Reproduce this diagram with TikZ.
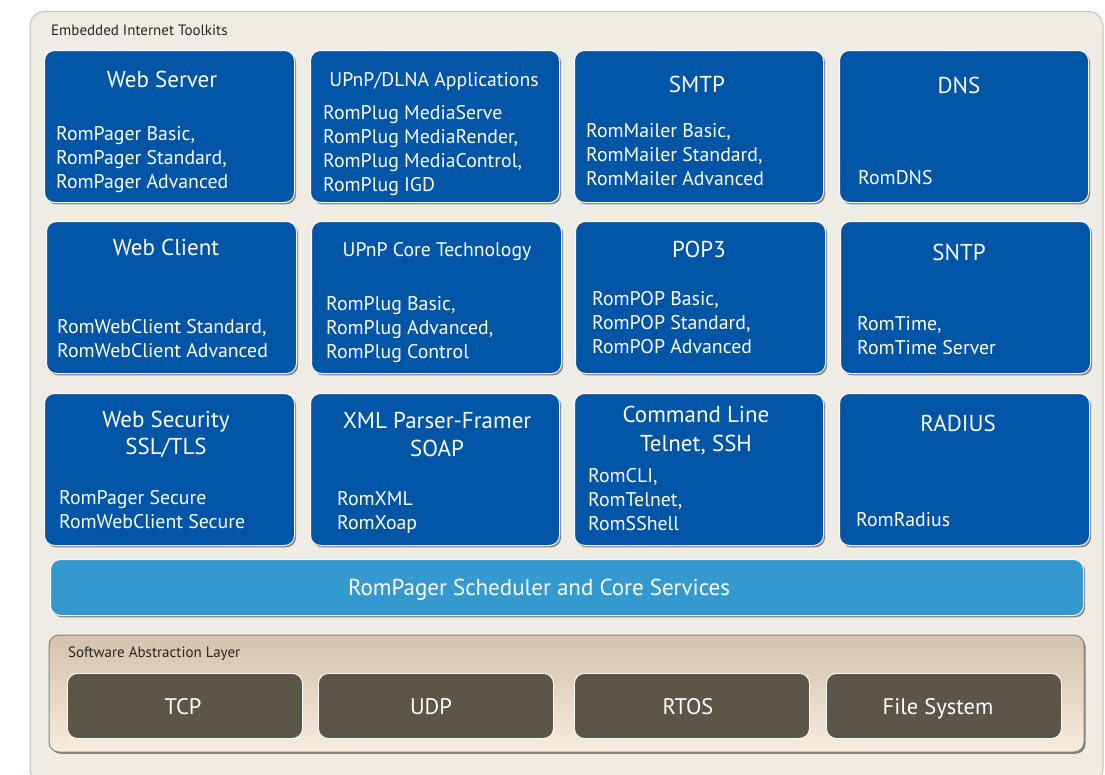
\documentclass[tikz,border=0pt]{standalone}
\usepackage{fontspec}
\setmainfont{PT Sans}
\usetikzlibrary{shadows}
\definecolor{panelbg}{HTML}{EFECE5}
\definecolor{panelln}{HTML}{C4C0B8}
\definecolor{boxblue}{HTML}{0055A6}
\definecolor{schedblue}{HTML}{3399CF}
\definecolor{saltop}{HTML}{D3C2AD}
\definecolor{salbot}{HTML}{F7ECDE}
\definecolor{salln}{HTML}{8C8478}
\definecolor{darkbox}{HTML}{5C5649}
\definecolor{labtxt}{HTML}{2A2520}
\tikzset{
  shad/.style={drop shadow={shadow xshift=1.6pt,shadow yshift=-1.8pt,fill=black,opacity=0.45}},
  bluebox/.style={rectangle,rounded corners=10pt,fill=boxblue,draw=white,line width=1pt,shad,anchor=north west,inner sep=0},
  schedbox/.style={rectangle,rounded corners=10pt,fill=schedblue,draw=white,line width=1pt,shad,anchor=north west,inner sep=0},
  darkboxst/.style={rectangle,rounded corners=10pt,fill=darkbox,draw=white,line width=0.9pt,anchor=north west,inner sep=0},
  ttl/.style={font=\fontsize{23}{27}\selectfont,text=white,anchor=base,inner sep=0},
  ttls/.style={font=\fontsize{19.7}{23}\selectfont,text=white,anchor=base,inner sep=0},
  bdy/.style={font=\fontsize{19.8}{24}\selectfont,text=white,anchor=base west,inner sep=0},
  smlab/.style={font=\fontsize{15}{17}\selectfont,text=labtxt,anchor=base west,inner sep=0},
  biglab/.style={font=\fontsize{22.5}{26}\selectfont,text=white,anchor=base,inner sep=0},
  schedlab/.style={font=\fontsize{23}{27}\selectfont,text=white,anchor=base,inner sep=0},
}
\newcommand\bodylines[5]{%
  \foreach \t [count=\i from 0] in {#5} {\node[#1] (#2\i) at (#3,{#4+24*\i}) {\t};}}
\newcommand\boxat[5]{%
  \node[bluebox,minimum width={(#4-#2)*1pt},minimum height={(#5-#3)*1pt}] (#1) at (#2,#3) {};}
\begin{document}
\begin{tikzpicture}[x=1pt,y=-1pt]
\useasboundingbox (0,0) rectangle (1105,774);
\fill[white] (0,0) rectangle (1105,774);
% outer panel
\node[rectangle,rounded corners=15pt,fill=panelbg,draw=panelln,line width=1pt,anchor=north west,inner sep=0,
  minimum width=1073pt,minimum height=772pt] (panel) at (29.5,11) {};
\node[smlab] (panellab) at (51,35) {Embedded Internet Toolkits};
% row 1
\boxat{ws}{44}{50}{294}{202}
\boxat{upd}{310}{50}{559}{202}
\boxat{smtp}{574}{50}{823}{202}
\boxat{dns}{839}{50}{1088}{202}
% row 2
\boxat{wc}{46}{221}{296}{373}
\boxat{upc}{311}{221}{561}{373}
\boxat{pop}{575}{221}{825}{373}
\boxat{sntp}{840}{221}{1090}{373}
% row 3
\boxat{wsec}{44}{393}{294}{545}
\boxat{xml}{310}{393}{559}{545}
\boxat{cli}{574}{393}{823}{545}
\boxat{rad}{839}{393}{1089}{545}
% titles
\node[ttl] (wst) at (162,87) {Web Server};
\node[ttls] (updt) at (434,86) {UPnP/DLNA Applications};
\node[ttl] (smtpt) at (697,92) {SMTP};
\node[ttl] (dnst) at (959,93) {DNS};
\node[ttl] (wct) at (166,255) {Web Client};
\node[ttls] (upct) at (437,256) {UPnP Core Technology};
\node[ttl] (popt) at (699,257) {POP3};
\node[ttl] (sntpt) at (959,260) {SNTP};
\node[ttl] (wsect1) at (166,427) {Web Security};
\node[ttl] (wsect2) at (166,454) {SSL/TLS};
\node[ttl] (xmlt1) at (437,428) {XML Parser-Framer};
\node[ttl] (xmlt2) at (437,456) {SOAP};
\node[ttl] (clit1) at (696,422) {Command Line};
\node[ttl] (clit2) at (696,451) {Telnet, SSH};
\node[ttl] (radt) at (958,431) {RADIUS};
% bodies
\bodylines{bdy}{wsb}{56}{140}{{RomPager Basic,},{RomPager Standard,},{RomPager Advanced}}
\bodylines{bdy}{updb}{323}{119}{{RomPlug MediaServe},{RomPlug MediaRender,},{RomPlug MediaControl,},{RomPlug IGD}}
\bodylines{bdy}{smtpb}{586}{137}{{RomMailer Basic,},{RomMailer Standard,},{RomMailer Advanced}}
\bodylines{bdy}{dnsb}{858}{184}{{RomDNS}}
\bodylines{bdy}{wcb}{57}{333}{{RomWebClient Standard,},{RomWebClient Advanced}}
\bodylines{bdy}{upcb}{326}{310}{{RomPlug Basic,},{RomPlug Advanced,},{RomPlug Control}}
\bodylines{bdy}{popb}{592}{305}{{RomPOP Basic,},{RomPOP Standard,},{RomPOP Advanced}}
\bodylines{bdy}{sntpb}{857}{330}{{RomTime,},{RomTime Server}}
\bodylines{bdy}{wsecb}{59}{504}{{RomPager Secure},{RomWebClient Secure}}
\bodylines{bdy}{xmlb}{337}{505}{{RomXML},{RomXoap}}
\bodylines{bdy}{clib}{588}{482}{{RomCLI,},{RomTelnet,},{RomSShell}}
\bodylines{bdy}{radb}{856}{526}{{RomRadius}}
% scheduler
\node[schedbox,minimum width=1033pt,minimum height=56pt] (sched) at (50,559) {};
\node[schedlab] (schedt) at (539,595) {RomPager Scheduler and Core Services};
% software abstraction layer
\path[top color=saltop,bottom color=salbot,draw=salln,line width=1pt,rounded corners=10pt,
  drop shadow={shadow xshift=1.6pt,shadow yshift=-1.8pt,fill=black,opacity=0.45}]
  (49,635) rectangle (1084,752);
\node[smlab] (sallab) at (68,657) {Software Abstraction Layer};
\node[darkboxst,minimum width=235pt,minimum height=65pt] (tcp) at (67,673) {};
\node[darkboxst,minimum width=235pt,minimum height=65pt] (udp) at (318,673) {};
\node[darkboxst,minimum width=235pt,minimum height=65pt] (rtos) at (574,673) {};
\node[darkboxst,minimum width=235pt,minimum height=65pt] (fs) at (826,673) {};
\node[biglab] (tcpt) at (183,714) {TCP};
\node[biglab] (udpt) at (431,714) {UDP};
\node[biglab] (rtost) at (688,714) {RTOS};
\node[biglab] (fst) at (938,714) {File System};
\end{tikzpicture}
\end{document}
